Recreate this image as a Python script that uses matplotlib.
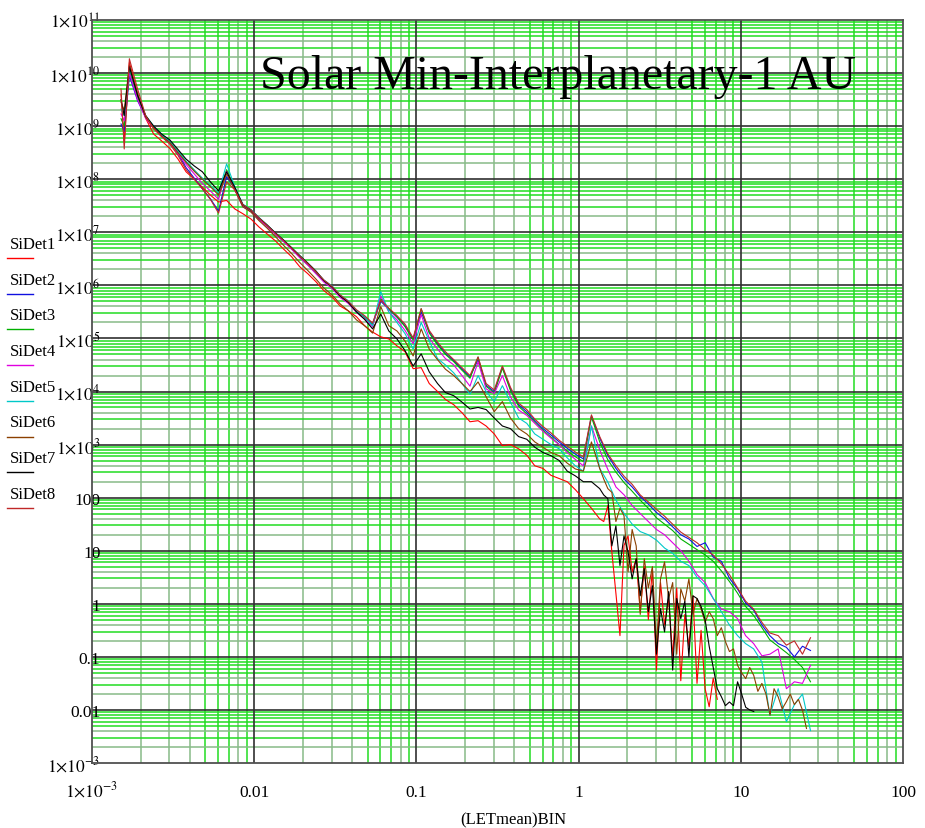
import matplotlib.pyplot as plt
from matplotlib.lines import Line2D
import numpy as np

plt.rcParams['font.family'] = ['Liberation Serif', 'DejaVu Serif']
plt.rcParams['mathtext.fontset'] = 'stix'

# LET bin centres (x axis): common part, coarse tail, fine tail
let_bins_head = [0.00151, 0.00158, 0.00170, 0.00191, 0.00214, 0.00240, 0.00269, 0.00302, 0.00339, 0.00380,
                 0.00427, 0.00479, 0.00537, 0.00603, 0.00676, 0.00759, 0.00851, 0.00955, 0.0107, 0.0120,
                 0.0135, 0.0151, 0.0170, 0.0191, 0.0214, 0.0240, 0.0269, 0.0302, 0.0339, 0.0380,
                 0.0427, 0.0479, 0.0537, 0.0603, 0.0676, 0.0759, 0.0851, 0.0955, 0.107, 0.120,
                 0.135, 0.151, 0.170, 0.191, 0.214, 0.240, 0.269, 0.302, 0.339, 0.380,
                 0.427, 0.479, 0.537, 0.603, 0.676, 0.759, 0.851, 0.955, 1.07, 1.20]
let_bins_tail = [1.35, 1.51, 1.70, 1.91, 2.14, 2.40, 2.69, 3.02, 3.39, 3.80,
                 4.27, 4.79, 5.37, 6.03, 6.76, 7.59, 8.51, 9.55, 10.7, 12.0,
                 13.5, 15.1, 17.0, 19.1, 21.4, 24.0, 26.9]
let_bins_tail_fine = [1.349, 1.429, 1.514, 1.603, 1.698, 1.799, 1.905, 2.018, 2.138, 2.265,
                      2.399, 2.541, 2.692, 2.851, 3.020, 3.199, 3.388, 3.589, 3.802, 4.027,
                      4.266, 4.519, 4.786, 5.070, 5.370, 5.689, 6.026, 6.383, 6.761, 7.161,
                      7.586, 8.035, 8.511, 9.016, 9.550, 10.12, 10.72, 11.35, 12.02, 12.74,
                      13.49, 14.29, 15.14, 16.03, 16.98, 17.99, 19.05, 20.18, 21.38, 22.65,
                      23.99, 25.41, 26.92]

# log10 of the counts, one list per detector
sidet1_log = [9.60, 8.70, 10.20, 9.62, 9.15, 8.85, 8.72, 8.58, 8.38, 8.14,
              8.00, 7.85, 7.70, 7.57, 7.60, 7.44, 7.35, 7.25, 7.10, 6.97,
              6.84, 6.69, 6.54, 6.35, 6.22, 6.07, 5.90, 5.78, 5.61, 5.52,
              5.41, 5.24, 5.12, 5.03, 4.99, 4.86, 4.75, 4.43, 4.45, 4.15,
              4.00, 3.85, 3.75, 3.60, 3.43, 3.45, 3.35, 3.20, 2.98, 3.00,
              2.92, 2.80, 2.60, 2.55, 2.42, 2.36, 2.30, 2.15, 1.98, 1.80,
              # fine tail
              1.60, 1.55, 1.85, 0.98, 0.20, -0.60, 1.10, 1.28, 0.60, 0.85,
              -0.15, 0.70, -0.30, 0.66, -1.25, 0.40, -0.40, 0.10, -1.00, 0.30,
              -1.45, -0.20, -0.80, 0.15, -1.50, -0.50, -1.60, -1.94, -1.40, -1.80]
sidet2_log = [9.04, 8.90, 9.95, 9.48, 9.17, 8.98, 8.82, 8.70, 8.48, 8.22,
              8.02, 7.82, 7.63, 7.40, 8.05, 7.82, 7.50, 7.40, 7.25, 7.12,
              6.97, 6.84, 6.69, 6.54, 6.40, 6.25, 6.08, 5.97, 5.80, 5.69,
              5.52, 5.41, 5.27, 5.70, 5.55, 5.40, 5.24, 4.99, 5.50, 5.12,
              4.90, 4.72, 4.58, 4.42, 4.28, 4.60, 4.12, 4.00, 4.46, 4.05,
              3.75, 3.62, 3.45, 3.30, 3.18, 3.05, 2.93, 2.82, 2.73, 3.54,
              3.12, 2.80, 2.55, 2.35, 2.20, 2.02, 1.88, 1.72, 1.60, 1.45,
              1.30, 1.22, 1.08, 1.15, 0.88, 0.80, 0.48, 0.28, 0.02, -0.12,
              -0.40, -0.60, -0.75, -0.82, -1.00, -0.80, -0.88]
sidet3_log = [9.14, 9.00, 10.05, 9.55, 9.18, 8.98, 8.83, 8.71, 8.52, 8.33,
              8.17, 8.01, 7.88, 7.73, 8.18, 7.84, 7.51, 7.41, 7.26, 7.12,
              6.97, 6.84, 6.69, 6.53, 6.39, 6.24, 6.08, 5.96, 5.79, 5.68,
              5.51, 5.40, 5.25, 5.75, 5.56, 5.41, 5.22, 4.97, 5.56, 5.10,
              4.88, 4.70, 4.56, 4.40, 4.25, 4.65, 4.10, 3.97, 4.44, 4.02,
              3.72, 3.58, 3.42, 3.27, 3.14, 3.00, 2.88, 2.77, 2.68, 3.52,
              3.05, 2.72, 2.48, 2.28, 2.12, 1.95, 1.80, 1.62, 1.50, 1.38,
              1.22, 1.12, 1.02, 0.92, 0.80, 0.62, 0.42, 0.20, -0.05, -0.22,
              -0.45, -0.68, -0.80, -0.92, -1.05, -1.20, -1.47]
sidet4_log = [9.23, 9.10, 10.00, 9.50, 9.15, 8.96, 8.80, 8.68, 8.48, 8.28,
              8.10, 7.92, 7.78, 7.62, 8.15, 7.80, 7.48, 7.39, 7.24, 7.11,
              6.96, 6.83, 6.68, 6.52, 6.38, 6.22, 6.06, 5.94, 5.77, 5.66,
              5.49, 5.37, 5.22, 5.80, 5.50, 5.35, 5.15, 4.90, 5.45, 5.00,
              4.80, 4.62, 4.50, 4.30, 4.10, 4.56, 4.05, 3.96, 4.30, 3.90,
              3.65, 3.55, 3.40, 3.25, 3.12, 3.00, 2.85, 2.72, 2.60, 3.35,
              2.90, 2.54, 2.20, 2.05, 1.85, 1.70, 1.55, 1.40, 1.30, 1.15,
              1.00, 0.80, 0.55, 0.40, 0.10, -0.10, -0.15, -0.28, -0.60, -0.75,
              -0.98, -0.95, -0.85, -1.60, -1.47, -1.50, -1.16]
sidet5_log = [9.32, 9.20, 10.10, 9.60, 9.20, 9.00, 8.84, 8.72, 8.53, 8.34,
              8.17, 8.02, 7.88, 7.74, 8.29, 7.86, 7.53, 7.43, 7.28, 7.14,
              6.99, 6.86, 6.71, 6.56, 6.42, 6.27, 6.10, 5.99, 5.82, 5.71,
              5.53, 5.41, 5.24, 5.88, 5.50, 5.30, 5.09, 4.80, 5.30, 4.95,
              4.62, 4.50, 4.35, 4.15, 3.95, 4.30, 4.00, 3.81, 4.11, 3.80,
              3.50, 3.40, 3.20, 3.10, 3.00, 2.92, 2.75, 2.60, 2.50, 3.35,
              2.55, 2.30, 1.95, 1.70, 1.50, 1.36, 1.30, 1.20, 1.05, 0.95,
              0.80, 0.72, 0.50, 0.34, 0.10, -0.15, -0.40, -0.60, -0.75, -0.85,
              -1.10, -2.10, -1.60, -2.22, -1.90, -1.70, -2.39]
sidet6_log = [9.45, 9.30, 10.15, 9.60, 9.17, 8.97, 8.81, 8.69, 8.50, 8.32,
              8.15, 8.00, 7.86, 7.70, 8.10, 7.80, 7.48, 7.38, 7.22, 7.08,
              6.92, 6.76, 6.60, 6.43, 6.28, 6.12, 5.95, 5.82, 5.65, 5.52,
              5.35, 5.24, 5.10, 5.60, 5.24, 5.14, 4.95, 4.67, 5.18, 4.80,
              4.60, 4.42, 4.30, 4.15, 4.00, 4.18, 3.90, 3.62, 3.81, 3.50,
              3.30, 3.20, 3.05, 2.95, 2.85, 2.79, 2.65, 2.54, 2.50, 3.05,
              # fine tail
              2.55, 2.35, 2.17, 2.10, 1.55, 1.80, 1.66, 0.60, 1.40, 1.09,
              -0.20, 0.85, 0.30, 0.70, -0.80, 0.47, 0.79, 0.10, 0.40, -0.95,
              0.28, 0.05, 0.47, -0.20, 0.10, -0.10, -0.35, -0.15, -0.28, -0.60,
              -0.45, -0.71, -0.90, -0.85, -1.16, -1.30, -1.41, -1.20, -1.35, -1.65,
              -1.50, -1.70, -2.10, -1.60, -1.75, -1.98, -1.85, -1.70, -1.90, -1.80,
              -2.00, -2.35]
sidet7_log = [9.50, 9.20, 10.12, 9.58, 9.20, 9.00, 8.85, 8.74, 8.56, 8.38,
              8.25, 8.14, 7.95, 7.78, 8.14, 7.85, 7.52, 7.42, 7.27, 7.14,
              6.99, 6.86, 6.71, 6.56, 6.42, 6.27, 6.09, 5.97, 5.80, 5.68,
              5.50, 5.36, 5.18, 5.46, 5.14, 4.99, 4.77, 4.48, 4.71, 4.37,
              4.15, 3.98, 3.92, 3.80, 3.67, 3.70, 3.66, 3.50, 3.35, 3.30,
              3.15, 3.10, 2.95, 2.85, 2.79, 2.70, 2.50, 2.41, 2.30, 2.30,
              # fine tail
              2.17, 2.05, 1.98, 1.09, 1.47, 0.72, 1.28, 0.98, 0.47, 0.85,
              0.15, 0.66, -0.15, 0.34, -0.95, -0.09, -0.53, 0.23, -1.25, 0.10,
              -0.28, 0.05, -1.00, 0.15, 0.10, -0.05, -0.30, -0.80, -1.20, -1.60,
              -1.75, -1.92, -1.85, -1.92, -1.47, -1.70, -1.95, -2.00, -2.03]
sidet8_log = [9.70, 8.57, 10.27, 9.70, 9.20, 8.95, 8.80, 8.66, 8.45, 8.18,
              8.00, 7.82, 7.62, 7.36, 7.95, 7.80, 7.52, 7.42, 7.27, 7.13,
              6.98, 6.85, 6.70, 6.55, 6.41, 6.26, 6.10, 5.98, 5.82, 5.70,
              5.54, 5.43, 5.29, 5.72, 5.57, 5.43, 5.27, 5.01, 5.56, 5.15,
              4.93, 4.75, 4.60, 4.45, 4.30, 4.65, 4.15, 4.03, 4.48, 4.08,
              3.78, 3.66, 3.48, 3.34, 3.22, 3.08, 2.97, 2.86, 2.77, 3.56,
              3.15, 2.83, 2.60, 2.40, 2.25, 2.05, 1.92, 1.78, 1.65, 1.50,
              1.35, 1.25, 1.15, 1.02, 0.92, 0.75, 0.55, 0.30, 0.05, -0.10,
              -0.35, -0.55, -0.60, -0.78, -0.70, -0.95, -0.64]

let_bins = let_bins_head + let_bins_tail
let_bins_fine = let_bins_head + let_bins_tail_fine

series = [sidet1_log, sidet2_log, sidet3_log, sidet4_log,
          sidet5_log, sidet6_log, sidet7_log, sidet8_log]
xbins = [let_bins_fine, let_bins, let_bins, let_bins,
         let_bins, let_bins_fine, let_bins_fine, let_bins]
labels = ['SiDet1', 'SiDet2', 'SiDet3', 'SiDet4', 'SiDet5', 'SiDet6', 'SiDet7', 'SiDet8']
colors = ['#ff0000', '#1010e0', '#00b000', '#e000e0', '#00c8c8', '#8b4000', '#000000', '#c02828']

fig = plt.figure(figsize=(9.25, 8.29), dpi=100)
ax = fig.add_axes([92 / 925, 65 / 829, 811 / 925, 743 / 829])
ax.set_xscale('log')
ax.set_yscale('log')
ax.set_xlim(1e-3, 100)
ax.set_ylim(1e-3, 1e11)

# Mathcad style grid: green / grey-green minor lines, dark major lines
green = '#22dd22'
grey_green = '#88bb88'
for e in range(-3, 2):
    for m in range(2, 10):
        ax.axvline(m * 10.0 ** e, color=grey_green if m in (2, 3, 4, 8) else green,
                   lw=1.1, zorder=0)
for e in range(-3, 11):
    for m in range(2, 10):
        ax.axhline(m * 10.0 ** e, color=grey_green if m in (2, 4) else green,
                   lw=1.1, zorder=0)
for e in range(-2, 2):
    ax.axvline(10.0 ** e, color='#303030', lw=1.2, zorder=0.5)
for e in range(-2, 11):
    ax.axhline(10.0 ** e, color='#303030', lw=1.2, zorder=0.5)

for x, vals, lab, c in zip(xbins, series, labels, colors):
    ax.plot(x[:len(vals)], 10.0 ** np.array(vals), color=c, lw=0.8, label=lab)


def mathcad_label(e):
    plain = {-2: '0.01', -1: '0.1', 0: '1', 1: '10', 2: '100'}
    if e in plain:
        return plain[e]
    return r'$1{\times}10^{%d}$' % e


xexp = list(range(-3, 3))
yexp = list(range(-3, 12))
ax.set_xticks([10.0 ** e for e in xexp], [mathcad_label(e) for e in xexp])
ax.set_yticks([10.0 ** e for e in yexp], [mathcad_label(e) for e in yexp])
ax.minorticks_off()
ax.tick_params(which='both', length=0, labelsize=12.5)
ax.tick_params(axis='y', pad=-6)
ax.tick_params(axis='x', pad=24)
for t in ax.get_xticklabels():
    t.set_verticalalignment('baseline')

for s in ax.spines.values():
    s.set_color('#505050')
    s.set_linewidth(1.3)

ax.text(0.575, 0.924, 'Solar Min-Interplanetary-1 AU', transform=ax.transAxes,
        ha='center', va='center', fontsize=34.5)
fig.text(513 / 925, 1 - 820 / 829, '(LETmean)BIN', ha='center', va='center', fontsize=12)

# legend on the left, Mathcad style: name with a short line below it
for i, (lab, c) in enumerate(zip(labels, colors)):
    ty = 1 - (245 + 35.7 * i) / 829
    ly = 1 - (259 + 35.7 * i) / 829
    fig.text(10 / 925, ty, lab, ha='left', va='center', fontsize=12)
    fig.add_artist(Line2D([7 / 925, 33 / 925], [ly, ly], color=c, lw=1.0,
                          transform=fig.transFigure))

fig.savefig('out.png', dpi=100)
